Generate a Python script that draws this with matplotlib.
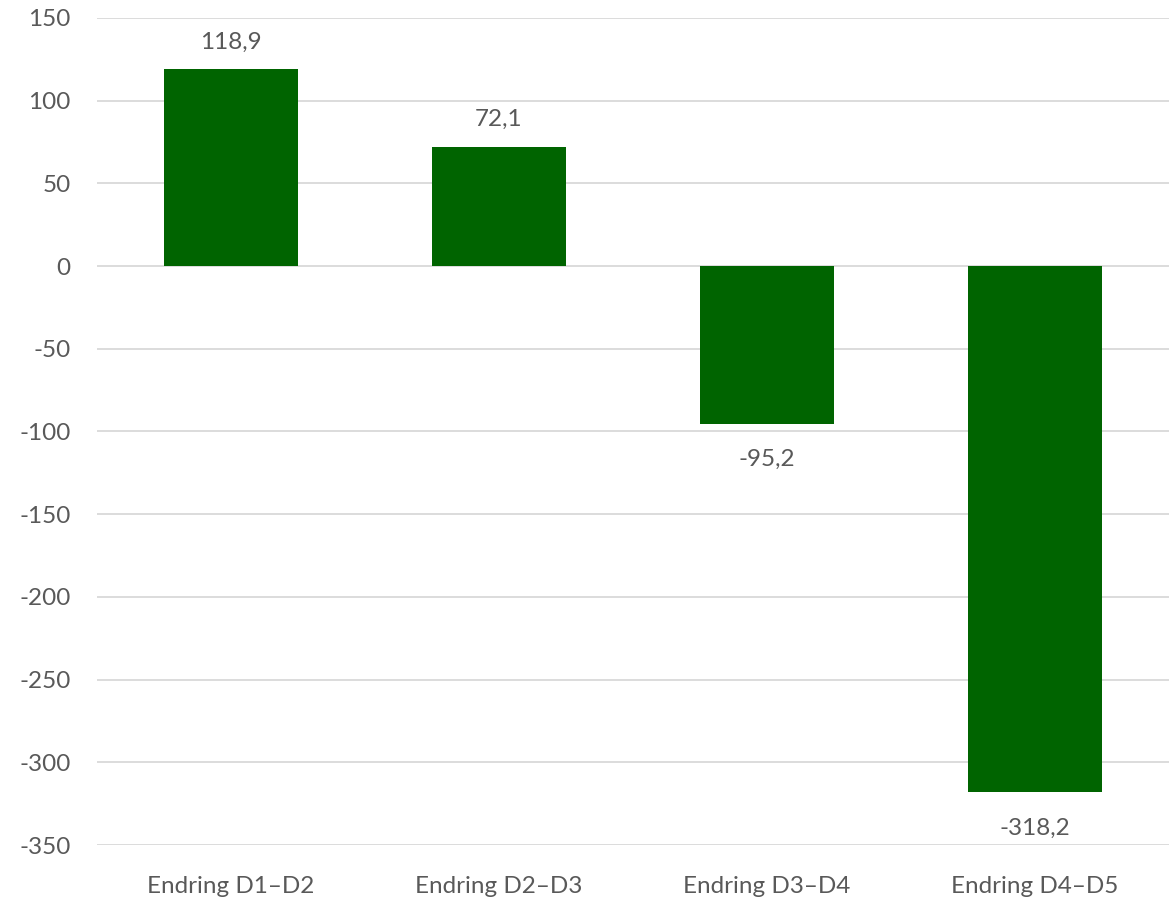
import matplotlib
matplotlib.use("Agg")
import matplotlib.pyplot as plt
import numpy as np

# Data
categories = ["Endring D1\u2013D2", "Endring D2\u2013D3", "Endring D3\u2013D4", "Endring D4\u2013D5"]
values = [118.9, 72.1, -95.2, -318.2]
yticks = list(range(-350, 151, 50))

plt.rcParams['font.family'] = ['Lato', 'DejaVu Sans']
text_color = '#595959'
fs = 17.5

fig = plt.figure(figsize=(11.69, 8.98), dpi=100)
ax = fig.add_axes([0.083, 0.059, 0.917, 0.921])

x = np.arange(len(categories))
bars = ax.bar(x, values, width=0.5, color='#006400', zorder=3)

# Value labels
for xi, v in zip(x, values):
    label = f"{v:.1f}".replace('.', ',')
    if v >= 0:
        ax.annotate(label, (xi, v), xytext=(0, 12), textcoords='offset points',
                    ha='center', va='bottom', fontsize=fs, color=text_color)
    else:
        ax.annotate(label, (xi, v), xytext=(0, -18), textcoords='offset points',
                    ha='center', va='top', fontsize=fs, color=text_color)

ax.set_xlim(-0.5, len(categories) - 0.5)
ax.set_ylim(-350, 150)
ax.set_yticks(yticks)
ax.set_yticklabels([str(t) for t in yticks])
ax.set_xticks(x)
ax.set_xticklabels(categories)

ax.grid(axis='y', color='#d9d9d9', linewidth=1.3, zorder=0)
for s in ax.spines.values():
    s.set_visible(False)
ax.tick_params(axis='both', length=0, labelsize=fs, colors=text_color)
ax.tick_params(axis='y', pad=19)
ax.tick_params(axis='x', pad=22)

fig.savefig("out.png", dpi=100)
